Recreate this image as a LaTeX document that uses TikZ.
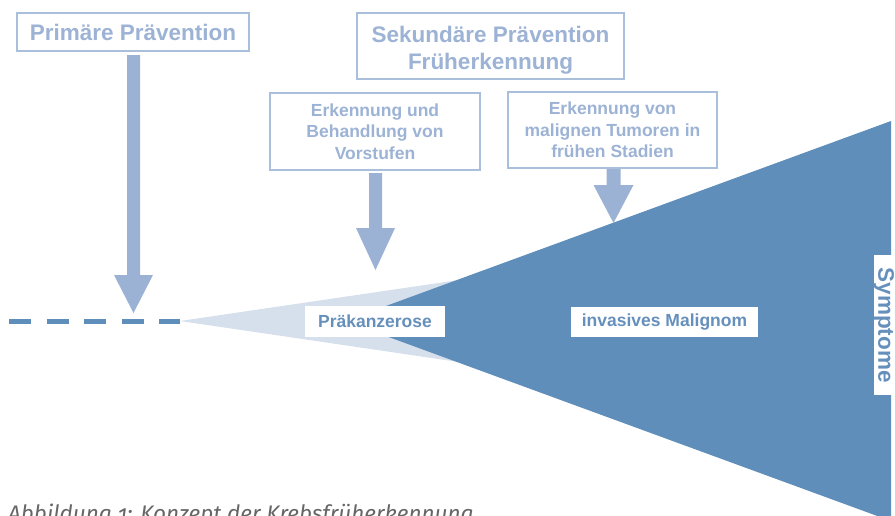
\documentclass[tikz,border=0pt]{standalone}
\usepackage{fontspec}
\setmainfont{Liberation Sans}
\newfontfamily\capfont[Numbers=OldStyle]{Fira Sans}
\definecolor{darkblue}{HTML}{5F8EBA}
\definecolor{lightblue}{HTML}{D6DFEC}
\definecolor{arrowblue}{HTML}{9BB2D4}
\definecolor{frameblue}{HTML}{A9BFDC}
\definecolor{textblue}{HTML}{9DB3D5}
\definecolor{labelblue}{HTML}{6690BC}

\tikzset{
    bigbox/.style={draw=frameblue, line width=1.2pt, fill=white, text=textblue, align=center,
        font=\bfseries\fontsize{22.5}{27}\selectfont, inner sep=0pt},
    smallbox/.style={bigbox, font=\bfseries\fontsize{17.5}{21.5}\selectfont},
    stage/.style={fill=white, text=labelblue, inner sep=0pt, font=\bfseries\fontsize{17.5}{20}\selectfont},
    pfeil/.style={fill=arrowblue, draw=none}
}

\begin{document}
\begin{tikzpicture}[x=1pt,y=-1pt]
    \useasboundingbox (0,0) rectangle (895,515);

    % Cone
    \coordinate (start) at (9,321);
    \coordinate (apex) at (180,321);
    \fill[lightblue] (apex) -- (520,271) -- (520,371) -- cycle;
    \fill[darkblue] (345,321) -- (891,121) -- (891,521) -- cycle;
    \draw[darkblue, line width=5pt, dash pattern=on 22pt off 15.5pt] (start) -- (apex);

    % Arrows
    \fill[pfeil] (127,55) -- (140,55) -- (140,275) -- (153,275) -- (133.5,313)
        -- (114,275) -- (127,275) -- cycle;
    \fill[pfeil] (369,173) -- (382,173) -- (382,228) -- (395,228) -- (375.5,270)
        -- (356,228) -- (369,228) -- cycle;
    \fill[pfeil] (606.5,168) -- (620.5,168) -- (620.5,185) -- (633.5,185) -- (613.5,223)
        -- (593.5,185) -- (606.5,185) -- cycle;

    % Boxes
    \node[bigbox, minimum width=232pt, minimum height=38pt] (prim) at (133,32) {Primäre Prävention};
    \node[bigbox, minimum width=267pt, minimum height=66pt] (sek) at (490.5,46)
        {\rule{0pt}{25pt}Sekundäre Prävention\\Früherkennung};
    \node[smallbox, minimum width=210pt, minimum height=77pt] (vorst) at (375,131.5)
        {Erkennung und\\Behandlung von\\Vorstufen};
    \node[smallbox, minimum width=209pt, minimum height=76pt] (tumor) at (612.5,130)
        {Erkennung von\\malignen Tumoren in\\frühen Stadien};

    % Stages
    \node[stage, minimum width=140pt, minimum height=31pt] (praek) at (375,321.5) {Präkanzerose};
    \node[stage, minimum width=187pt, minimum height=30pt] (malig) at (664.5,322) {invasives Malignom};
    \node[stage, rotate=-90, minimum width=140pt, minimum height=21pt,
        font=\bfseries\fontsize{22.5}{22.5}\selectfont] (sympt) at (884,325) {Symptome};

    % Caption
    \node[anchor=base west, inner sep=0pt, text=black!60, font=\capfont\itshape\fontsize{22.5}{22.5}\selectfont]
        (caption) at (8,521.5) {Abbildung 1: Konzept der Krebsfrüherkennung};
\end{tikzpicture}
\end{document}
